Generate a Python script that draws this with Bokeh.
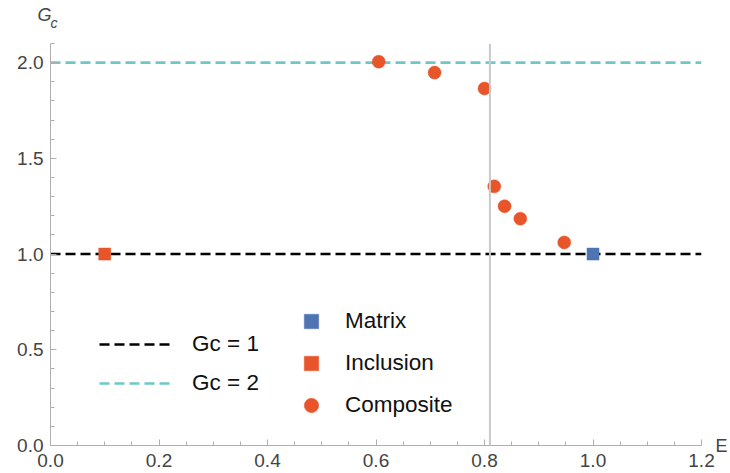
import numpy as np
from bokeh.plotting import figure
from bokeh.models import (Range1d, FixedTicker, Span, Legend, LegendItem, Label,
                          NumeralTickFormatter, LinearAxis, CustomJSTickFormatter)
from bokeh.embed import file_html
from bokeh.resources import INLINE

# ---- data ----
composite_E = [0.605, 0.708, 0.800, 0.818, 0.837, 0.866, 0.947]
composite_Gc = [2.005, 1.948, 1.865, 1.354, 1.250, 1.185, 1.061]
matrix_E = [1.0]
matrix_Gc = [1.0]
inclusion_E = [0.1]
inclusion_Gc = [1.0]
gc1_level = 1.0
gc2_level = 2.0
E_critical = 0.81
x_limits = [0.0, 1.2]
y_limits = [0.0, 2.1]
x_ticks = [0.0, 0.2, 0.4, 0.6, 0.8, 1.0, 1.2]
y_ticks = [0.0, 0.5, 1.0, 1.5, 2.0]

BLUE = "#4F74B2"
ORANGE = "#E8552B"
CYAN = "#70C7C7"
AXIS_GRAY = "#AFAFAF"
TEXT_GRAY = "#444444"
FONT = "Liberation Sans"

p = figure(width=730, height=473, output_backend="svg", toolbar_location=None,
           x_range=Range1d(*x_limits), y_range=Range1d(*y_limits),
           min_border_left=50, min_border_right=28, min_border_top=43, min_border_bottom=28)
p.outline_line_color = None
p.xgrid.visible = False
p.ygrid.visible = False
p.background_fill_color = "white"
p.border_fill_color = "white"

for ax, ticks, step in ((p.xaxis[0], x_ticks, 0.05), (p.yaxis[0], y_ticks, 0.1)):
    lim = x_limits if ax is p.xaxis[0] else y_limits
    minors = [round(v, 3) for v in np.arange(lim[0], lim[1] + 1e-9, step)]
    ax.ticker = FixedTicker(ticks=ticks, minor_ticks=minors)
    ax.formatter = NumeralTickFormatter(format="0.0")
    ax.axis_line_color = AXIS_GRAY
    ax.axis_line_width = 1
    ax.major_tick_line_color = AXIS_GRAY
    ax.minor_tick_line_color = AXIS_GRAY
    ax.major_tick_in = 6
    ax.major_tick_out = 0
    ax.minor_tick_in = 4
    ax.minor_tick_out = 0
    ax.major_label_text_font = FONT
    ax.major_label_text_font_size = "19px"
    ax.major_label_text_color = TEXT_GRAY
p.xaxis.major_label_standoff = 8
p.yaxis.major_label_standoff = 7

# "E" axis name at the right end of the x axis, via a bare right axis
e_axis = LinearAxis(ticker=FixedTicker(ticks=[y_limits[0]], minor_ticks=[]),
                    formatter=CustomJSTickFormatter(code="return 'E'"),
                    axis_line_color=None, major_tick_line_color=None, minor_tick_line_color=None,
                    major_tick_in=0, major_tick_out=0, major_label_standoff=14,
                    major_label_text_font=FONT, major_label_text_font_size="18px",
                    major_label_text_color=TEXT_GRAY)
p.add_layout(e_axis, "right")

# vertical reference line
p.add_layout(Span(location=E_critical, dimension="height", line_color="#C9C9C9", line_width=2))

# horizontal dashed lines
r_gc1 = p.line(x_limits, [gc1_level, gc1_level], line_color="black", line_width=2.6, line_dash="10 5")
r_gc2 = p.line(x_limits, [gc2_level, gc2_level], line_color=CYAN, line_width=2.6, line_dash="10 5")

# points
r_comp = p.scatter(composite_E, composite_Gc, marker="circle", size=13,
                   fill_color=ORANGE, line_color=ORANGE, line_alpha=0.5)
r_incl = p.scatter(inclusion_E, inclusion_Gc, marker="square", size=12,
                   fill_color=ORANGE, line_color=ORANGE, line_alpha=0.5)
r_mat = p.scatter(matrix_E, matrix_Gc, marker="square", size=12,
                  fill_color=BLUE, line_color=BLUE, line_alpha=0.5)

leg1 = Legend(items=[LegendItem(label="Gc = 1", renderers=[r_gc1]),
                     LegendItem(label="Gc = 2", renderers=[r_gc2])],
              location=(49, 49), glyph_width=73, glyph_height=26, label_height=26,
              label_standoff=20, spacing=13, padding=0, margin=0,
              border_line_alpha=0, background_fill_alpha=0,
              label_text_font=FONT, label_text_font_size="22.5px", label_text_color="#111111")
leg2 = Legend(items=[LegendItem(label="Matrix", renderers=[r_mat]),
                     LegendItem(label="Inclusion", renderers=[r_incl]),
                     LegendItem(label="Composite", renderers=[r_comp])],
              location=(243, 22), glyph_width=36, glyph_height=36, label_height=26,
              label_standoff=16, spacing=6, padding=0, margin=0,
              border_line_alpha=0, background_fill_alpha=0,
              label_text_font=FONT, label_text_font_size="22.5px", label_text_color="#111111")
p.add_layout(leg1, "center")
p.add_layout(leg2, "center")

# "G_c" axis name above the y axis, placed in the top panel
p.add_layout(Label(x=-13, y=29, x_units="screen", y_units="screen", text="G",
                   text_baseline="alphabetic",
                   text_font=FONT, text_font_size="18px", text_font_style="italic",
                   text_color=TEXT_GRAY), "above")
p.add_layout(Label(x=0, y=1, x_units="screen", y_units="screen", text="c",
                   text_baseline="alphabetic",
                   text_font=FONT, text_font_size="14px", text_font_style="italic",
                   text_color=TEXT_GRAY), "above")

open("out.html", "w").write(file_html(p, INLINE))
